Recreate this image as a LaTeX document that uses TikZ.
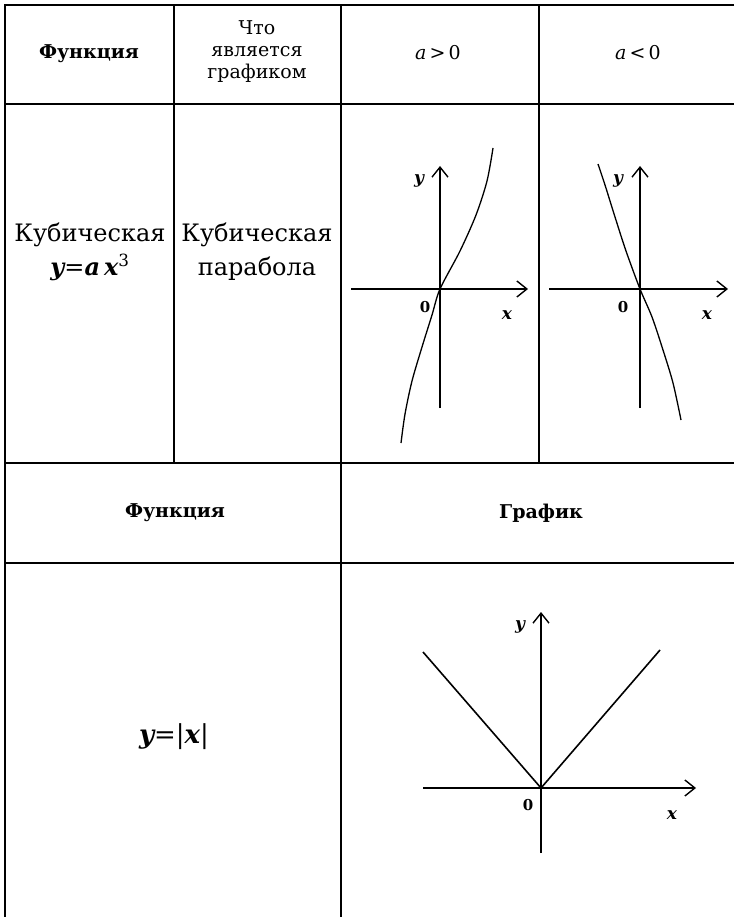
\documentclass[tikz,border=0pt]{standalone}
\usepackage{fontspec}
\setmainfont{DejaVu Serif}
\usetikzlibrary{arrows.meta}

\begin{document}
\begin{tikzpicture}[x=1pt,y=-1pt,
    grid/.style={line width=1.6pt},
    axis/.style={line width=1.6pt,-{Straight Barb[length=10pt,width=16pt,line width=1.4pt]}},
    curve/.style={line width=1.3pt},
    lbl/.style={font=\fontsize{17}{19}\selectfont\bfseries\itshape,inner sep=0pt},
    zero/.style={font=\fontsize{15}{17}\selectfont\bfseries,inner sep=0pt},
    txt/.style={font=\fontsize{24}{34}\selectfont,align=center,inner sep=0pt},
    small/.style={font=\fontsize{19}{22}\selectfont,align=center,inner sep=0pt},
    sign/.style={font=\fontsize{19}{22}\selectfont,inner sep=0pt},
    head/.style={font=\fontsize{19}{22}\selectfont\bfseries,align=center,inner sep=0pt}]
    \useasboundingbox (0,0) rectangle (734,917);
    \draw[grid] (734,5) -- (5,5) -- (5,917);
    \foreach \y in {104,463,563}
    \draw[grid] (5,\y) -- (734,\y);
    \foreach \x in {174,539}
    \draw[grid] (\x,5) -- (\x,463);
    \draw[grid] (341,5) -- (341,917);
    \node[head] (hfun) at (89,54) {Функция};
    \node[small] (hwhat) at (257,52) {Что\\является\\графиком};
    \node[sign] (hpos) at (438,53) {\textit{a}\,>\,0};
    \node[sign] (hneg) at (638,53) {\textit{a}\,<\,0};
    \node[txt] (fcub) at (90,252) {Кубическая\\{\bfseries\itshape y}={\bfseries\itshape a\,x}\textsuperscript{3}};
    \node[txt] (gcub) at (257,252) {Кубическая\\парабола};
    \node[head] (hfun2) at (175,513) {Функция};
    \node[head] (hgraph) at (541,513) {График};
    \node[txt,font=\fontsize{26}{30}\selectfont] (fabs) at (174,737) {{\bfseries\itshape y}=|{\bfseries\itshape x}|};
    \draw[xshift=440pt,yshift=-289pt,axis] (-89,0) -- (88,0);
    \draw[xshift=440pt,yshift=-289pt,axis] (0,119) -- (0,-123);
    \draw[xshift=440pt,yshift=-289pt,curve] plot[smooth] coordinates
      {(-39,154) (-35,125) (-28,92) (-18,58) (-8,26) (0,0) (20,-38) (36,-74) (47,-108) (53,-141)};
    \node[lbl] (y1) at (419,181) {y};
    \node[zero] (o1) at (425,307) {0};
    \node[lbl] (x1) at (507,315) {x};
    \draw[xshift=640pt,yshift=-289pt,axis] (-91,0) -- (88,0);
    \draw[xshift=640pt,yshift=-289pt,axis] (0,119) -- (0,-123);
    \draw[xshift=640pt,yshift=-289pt,curve] plot[smooth] coordinates
      {(-42,-125) (-35,-104) (-25,-72) (-14,-38) (0,0) (12,28) (23,61) (33,94) (41,131)};
    \node[lbl] (y2) at (618,181) {y};
    \node[zero] (o2) at (623,307) {0};
    \node[lbl] (x2) at (707,315) {x};
    \draw[xshift=541pt,yshift=-788pt,axis] (-118,0) -- (155,0);
    \draw[xshift=541pt,yshift=-788pt,axis] (0,65) -- (0,-176);
    \draw[xshift=541pt,yshift=-788pt,line width=1.6pt] (-118,-136) -- (0,0) -- (119,-138);
    \node[lbl] (y3) at (520,627) {y};
    \node[zero] (o3) at (528,805) {0};
    \node[lbl] (x3) at (672,815) {x};
\end{tikzpicture}
\end{document}
